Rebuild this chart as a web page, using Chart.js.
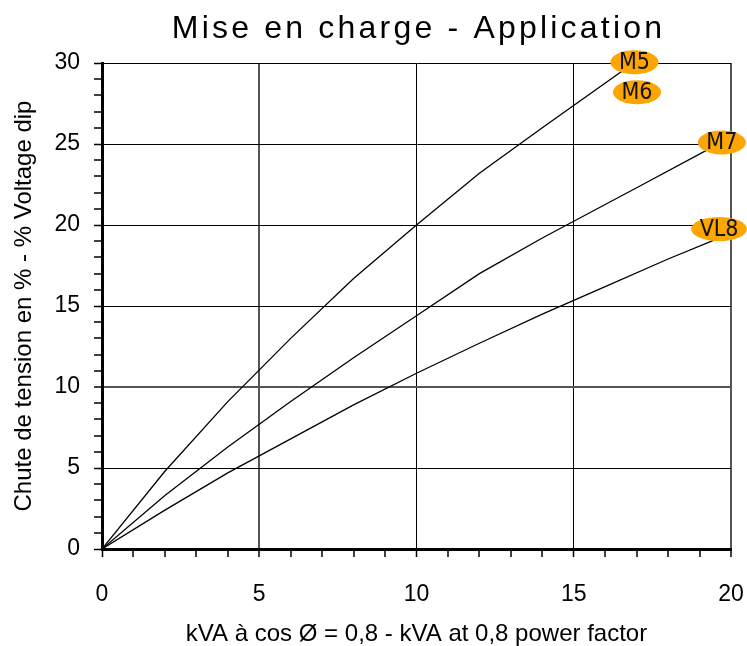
<!DOCTYPE html>
<html><head><meta charset="utf-8">
<script src="https://cdn.jsdelivr.net/npm/chart.js@4.4.0/dist/chart.umd.min.js"></script>
<style>html,body{margin:0;padding:0;background:#fff;} #wrap{width:747px;height:646px;position:relative;}</style>
</head><body><div id="wrap"><canvas id="c" width="747" height="646"></canvas></div>
<script>
const titleText = "Mise en charge - Application";
const xTitle = "kVA à cos Ø = 0,8 - kVA at 0,8 power factor";
const yTitle = "Chute de tension en % - % Voltage dip";
const xTickLabels = [0, 5, 10, 15, 20];
const yTickLabels = [0, 5, 10, 15, 20, 25, 30];

const m5X = [0, 2, 4, 6, 8, 10, 12, 14, 16.9];
const m5Y = [0, 4.8, 9.1, 13.0, 16.7, 20.0, 23.2, 26.0, 30.0];
const m7X = [0, 2, 4, 6, 8, 10, 12, 14, 17, 19.5];
const m7Y = [0, 3.3, 6.3, 9.1, 11.8, 14.4, 17.0, 19.2, 22.3, 24.9];
const vl8X = [0, 2, 4, 6, 8, 10, 12, 14, 16, 18, 19.5];
const vl8Y = [0, 2.4, 4.7, 6.8, 8.9, 10.85, 12.7, 14.5, 16.2, 17.9, 19.1];

const tagNames = ["M5", "M6", "M7", "VL8"];
const tagX = [16.93, 17.01, 19.71, 19.62];
const tagY = [30.05, 28.2, 25.1, 19.75];

const pts = (xs, ys) => xs.map((v, i) => ({x: v, y: ys[i]}));
const FAM = '"Liberation Sans", Arial, sans-serif';

const tagPlugin = {
  id: 'tags',
  afterDatasetsDraw(chart) {
    const {ctx, scales: {x, y}} = chart;
    ctx.save();
    ctx.font = '23px "Liberation Sans Narrow", "Arial Narrow", "DejaVu Sans Condensed", sans-serif';
    tagNames.forEach((t, i) => {
      const cx = x.getPixelForValue(tagX[i]), cy = y.getPixelForValue(tagY[i]);
      const w = ctx.measureText(t).width;
      ctx.beginPath();
      ctx.ellipse(cx, cy, w / 2 + 8.5, 12, 0, 0, Math.PI * 2);
      ctx.fillStyle = '#FFA500';
      ctx.fill();
      ctx.fillStyle = '#111';
      ctx.textAlign = 'center';
      ctx.textBaseline = 'middle';
      ctx.fillText(t, cx, cy + 1);
    });
    ctx.restore();
  }
};

const titlePlugin = {
  id: 'ttl',
  afterDraw(chart) {
    const ctx = chart.ctx, a = chart.chartArea;
    ctx.save();
    ctx.font = '32px ' + FAM;
    try { ctx.letterSpacing = '3.2px'; } catch (e) {}
    ctx.fillStyle = '#000';
    ctx.textAlign = 'center';
    ctx.textBaseline = 'alphabetic';
    ctx.fillText(titleText, (a.left + a.right) / 2 + 2, 38);
    ctx.restore();
  }
};

function gridColor(greyVals) {
  return c => {
    const v = c.tick ? c.tick.value : null;
    if (v === null || v % 5 !== 0) return 'rgba(0,0,0,0)';
    return greyVals.includes(v) ? '#555' : '#000';
  };
}
function gridWidth(greyVals) {
  return c => {
    const v = c.tick ? c.tick.value : null;
    if (v === null || v % 5 !== 0) return 0;
    return greyVals.includes(v) ? 2 : 1;
  };
}

new Chart(document.getElementById('c'), {
  type: 'line',
  data: {
    datasets: [
      {label: 'M5', data: pts(m5X, m5Y)},
      {label: 'M7', data: pts(m7X, m7Y)},
      {label: 'VL8', data: pts(vl8X, vl8Y)}
    ].map(d => Object.assign(d, {borderColor: '#000', borderWidth: 1.3, pointRadius: 0, tension: 0, fill: false}))
  },
  options: {
    responsive: false,
    animation: false,
    events: [],
    layout: {padding: {top: 63, right: 16, left: 0, bottom: 0}},
    plugins: {legend: {display: false}, tooltip: {enabled: false}, title: {display: false}},
    scales: {
      x: {
        type: 'linear', min: 0, max: 20,
        afterFit(s) { s.height = 97; s.paddingLeft = 0; s.paddingRight = 0; },
        border: {display: true, color: '#000', width: 3},
        grid: {color: gridColor([5, 20]), lineWidth: gridWidth([5, 20]), tickColor: '#000', tickLength: 8, tickWidth: 1.5},
        ticks: {stepSize: 1, autoSkip: false, maxRotation: 0, padding: 24, color: '#000', font: {size: 23, family: FAM},
          callback: v => xTickLabels.includes(v) ? String(v) : ''},
        title: {display: true, text: xTitle, color: '#000', font: {size: 24, family: FAM, lineHeight: 1}, padding: {top: 0, bottom: 0}}
      },
      y: {
        type: 'linear', min: 0, max: 30,
        afterFit(s) { s.width = 102; s.paddingTop = 0; s.paddingBottom = 0; },
        border: {display: true, color: '#000', width: 3},
        grid: {color: gridColor([10]), lineWidth: gridWidth([10]), tickColor: '#000', tickLength: 8, tickWidth: 1.5},
        ticks: {stepSize: 1, autoSkip: false, padding: 14, color: '#000', font: {size: 23, family: FAM},
          callback: v => yTickLabels.includes(v) ? String(v) : ''},
        title: {display: true, text: yTitle, color: '#000', font: {size: 24, family: FAM, lineHeight: 1}, padding: {top: 12, bottom: 0}}
      }
    }
  },
  plugins: [tagPlugin, titlePlugin]
});
</script></body></html>
